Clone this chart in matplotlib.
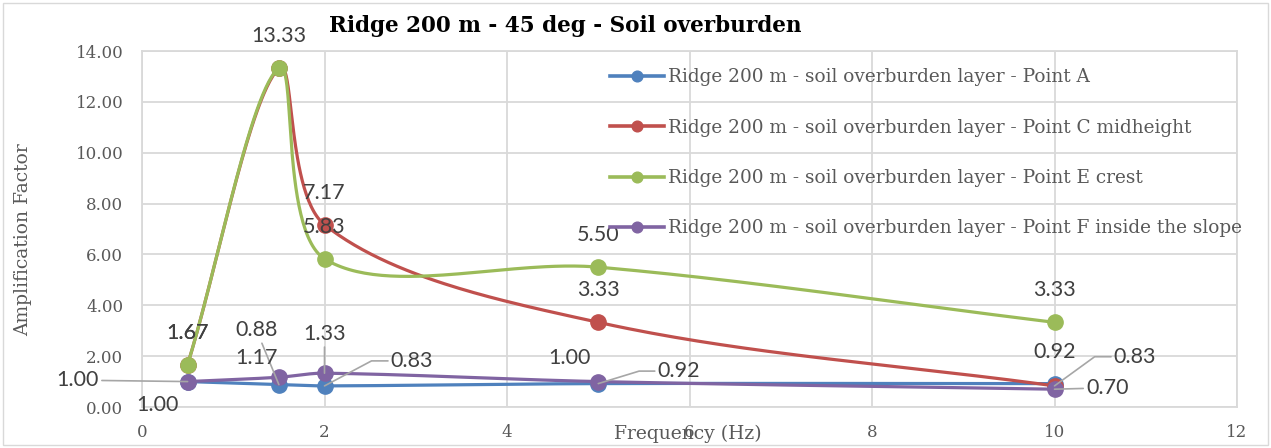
import numpy as np
import matplotlib.pyplot as plt
from matplotlib.lines import Line2D
from matplotlib.patches import Rectangle

# ==============================
# Data
# ==============================
freq = [0.5, 1.5, 2, 5, 10]

point_a = [1.00, 0.88, 0.83, 0.92, 0.92]
point_c = [1.67, 13.33, 7.17, 3.33, 0.83]
point_e = [1.67, 13.33, 5.83, 5.50, 3.33]
point_f = [1.00, 1.17, 1.33, 1.00, 0.70]

series_names = [
    "Ridge 200 m - soil overburden layer - Point A",
    "Ridge 200 m - soil overburden layer - Point C midheight",
    "Ridge 200 m - soil overburden layer - Point E crest",
    "Ridge 200 m - soil overburden layer - Point F inside the slope",
]
colors = ["#4F81BD", "#C0504D", "#9BBB59", "#8064A2"]

xticks = [0, 2, 4, 6, 8, 10, 12]
yticks = [0, 2, 4, 6, 8, 10, 12, 14]

# data label placement per series / point index:
# (dx, dy) offset in points and leader style (None = no leader,
# "straight" = direct line, number = elbow angle at the marker)
ABOVE = (0, 23, None)
label_pos = {
    0: {0: (-79, 1, "straight"), 1: (-16, 39, "straight"), 2: (63, 18, 28),
        3: (58, 9, 17), 4: (0, 23, None)},
    1: {0: ABOVE, 2: ABOVE, 3: ABOVE, 4: (58, 21, 36)},
    2: {0: ABOVE, 1: ABOVE, 2: ABOVE, 3: ABOVE, 4: ABOVE},
    3: {0: (-22, -17, None), 1: (-16, 14, None), 2: (0, 28, "straight"),
        3: (-21, 17, None), 4: (38, 1, "straight")},
}


def excel_smooth(ax, xs, ys, f=1 / 3, n=60):
    """Chord weighted Bezier smoothing done in display space."""
    pts = ax.transData.transform(np.column_stack([xs, ys]))
    out = [pts[0]]
    m = len(pts)
    for i in range(m - 1):
        p0 = pts[i - 1] if i > 0 else pts[i]
        p1 = pts[i]
        p2 = pts[i + 1]
        p3 = pts[i + 2] if i + 2 < m else pts[i + 1]
        d01 = np.hypot(*(p1 - p0))
        d12 = np.hypot(*(p2 - p1))
        d23 = np.hypot(*(p3 - p2))
        c1 = p1 + (p2 - p0) * f * d12 / (d01 + d12)
        c2 = p2 - (p3 - p1) * f * d12 / (d12 + d23)
        t = np.linspace(0, 1, n)[1:, None]
        seg = ((1 - t) ** 3 * p1 + 3 * (1 - t) ** 2 * t * c1
               + 3 * (1 - t) * t ** 2 * c2 + t ** 3 * p2)
        out.extend(seg)
    out = ax.transData.inverted().transform(np.array(out))
    return out[:, 0], out[:, 1]


fig = plt.figure(figsize=(12.71, 4.48), dpi=100)
ax = fig.add_axes([142 / 1271, 1 - 407 / 448, 1095 / 1271, 356 / 448])

ax.set_xlim(0, 12)
ax.set_ylim(0, 14)
ax.set_xticks(xticks)
ax.set_yticks(yticks)
ax.set_yticklabels([f"{v:.2f}" for v in yticks])
ax.tick_params(length=0, labelsize=12, labelcolor="#595959")
ax.tick_params(axis="x", pad=12)
ax.tick_params(axis="y", pad=13.5)
for lab in ax.get_xticklabels() + ax.get_yticklabels():
    lab.set_fontfamily("DejaVu Serif")
ax.grid(True, color="#D9D9D9", linewidth=1.3)
ax.set_axisbelow(True)
for sp in ax.spines.values():
    sp.set_color("#D9D9D9")
    sp.set_linewidth(1.3)

all_series = [point_a, point_c, point_e, point_f]
for k, (ys, col) in enumerate(zip(all_series, colors)):
    sx, sy = excel_smooth(ax, freq, ys)
    ax.plot(sx, sy, color=col, linewidth=2.3, zorder=3 + k, solid_capstyle="round")
    ax.plot(freq, ys, linestyle="none", marker="o", markersize=11,
            color=col, zorder=3 + k)

# data labels
for k, ys in enumerate(all_series):
    for i, (dx, dy, leader) in label_pos[k].items():
        props = None
        if leader == "straight":
            props = dict(arrowstyle="-", color="#A6A6A6", lw=1.2,
                         shrinkA=0, shrinkB=0)
        elif leader is not None:
            props = dict(arrowstyle="-", color="#A6A6A6", lw=1.2,
                         shrinkA=0, shrinkB=0,
                         connectionstyle=f"angle,angleA=0,angleB={leader}")
        ax.annotate(f"{ys[i]:.2f}", (freq[i], ys[i]), xytext=(dx, dy),
                    textcoords="offset points", ha="center", va="center",
                    fontsize=15.5, family="Lato", color="#404040",
                    arrowprops=props, zorder=10, annotation_clip=False)

ax.set_xlabel("Frequency (Hz)", family="DejaVu Serif", fontsize=13.5,
              color="#595959", va="top")
ax.xaxis.set_label_coords(0.4986, -0.051)
ax.set_ylabel("Amplification Factor", family="DejaVu Serif", fontsize=13.5,
              color="#595959")
ax.yaxis.set_label_coords(-0.1005, 0.47)

fig.text(565 / 1271, 1 - 26 / 448, "Ridge 200 m - 45 deg - Soil overburden",
         ha="center", va="center", family="DejaVu Serif", fontweight="bold",
         fontsize=15.5)

handles = [Line2D([], [], color=c, linewidth=2.6, marker="o", markersize=7.7)
           for c in colors]
fig.legend(handles, series_names, loc="upper left",
           bbox_to_anchor=(603 / 1271, 1 - 61 / 448), frameon=False,
           prop={"family": "DejaVu Serif", "size": 13.3},
           handlelength=2.9, handletextpad=0.2, labelspacing=1.75,
           borderaxespad=0, labelcolor="#595959")

# chart border
fig.patches.append(Rectangle((3 / 1271, 3 / 448), 1 - 6 / 1271, 1 - 6 / 448,
                             transform=fig.transFigure, fill=False,
                             edgecolor="#D9D9D9", linewidth=1))

fig.savefig("out.png", dpi=100)
